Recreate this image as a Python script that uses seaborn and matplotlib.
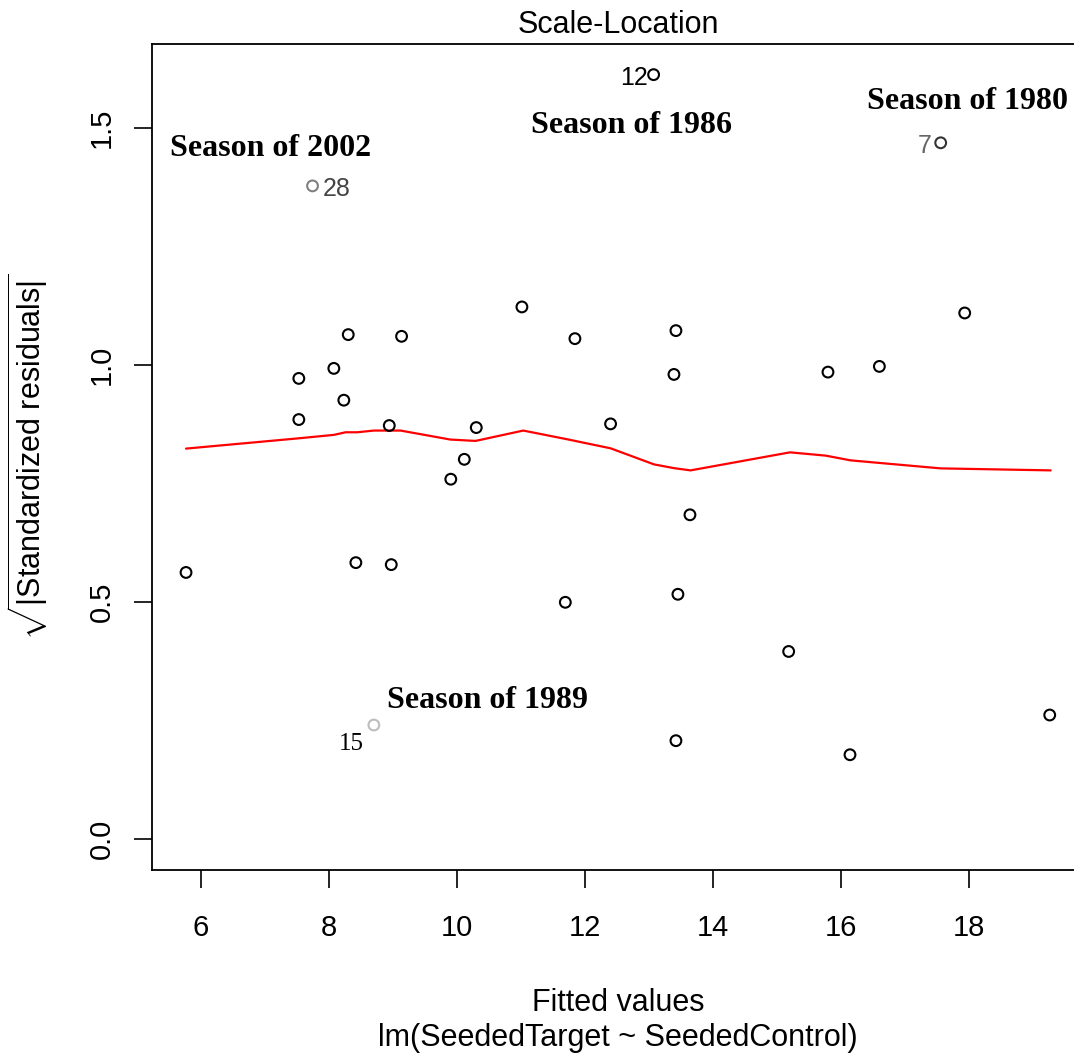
import matplotlib
matplotlib.use("Agg")
import matplotlib.pyplot as plt
import seaborn as sns
import pandas as pd

# ---- data ----
fitted = [5.766, 7.528, 7.528, 7.742, 8.075, 8.231, 8.300, 8.419, 8.700, 8.941,
          8.972, 9.133, 9.902, 10.113, 10.300, 11.013, 11.691, 11.841, 12.398, 13.070,
          13.388, 13.419, 13.419, 13.450, 13.638, 15.180, 15.794, 16.138, 16.597, 17.555,
          17.930, 19.258]
sqrt_std_resid = [0.5624, 0.9713, 0.8846, 1.377, 0.9924, 0.9254, 1.0636, 0.5831, 0.2409, 0.8720,
                  0.5789, 1.0600, 0.7589, 0.8008, 0.8677, 1.1219, 0.4995, 1.0551, 0.8755, 1.6114,
                  0.9797, 1.0720, 0.2079, 0.5164, 0.6839, 0.3959, 0.9846, 0.1783, 0.9966, 1.4678,
                  1.1092, 0.2620]
point_edge = ["black", "black", "black", "#808080", "black", "black", "black", "black", "#bdbdbd", "black",
              "black", "black", "black", "black", "black", "black", "black", "black", "black", "black",
              "black", "black", "black", "black", "black", "black", "black", "black", "black", "#333333",
              "black", "black"]

smooth_x = [5.766, 7.528, 8.075, 8.258, 8.441, 8.700, 9.117, 9.898, 10.289, 11.034,
            11.722, 12.398, 13.075, 13.388, 13.648, 15.200, 15.758, 16.148, 17.555, 19.273]
smooth_y = [0.8234, 0.8451, 0.8523, 0.8578, 0.8578, 0.8614, 0.8614, 0.8424, 0.8396, 0.8614,
            0.8430, 0.8240, 0.7902, 0.7822, 0.7775, 0.8155, 0.8086, 0.7986, 0.7817, 0.7775]

# id labels: text, x, y, colour, font family, alignment
id_labels = [("28", 7.898, 1.370, "#444444", "sans", "left"),
             ("12", 12.977, 1.605, "black", "sans", "right"),
             ("7", 17.414, 1.461, "#666666", "sans", "right"),
             ("15", 8.539, 0.200, "black", "serif", "right")]

season_labels = [("Season of 2002", 5.523, 1.4550),
                 ("Season of 1986", 11.148, 1.504),
                 ("Season of 1980", 16.398, 1.5545),
                 ("Season of 1989", 8.898, 0.2930)]

x_ticks = [6, 8, 10, 12, 14, 16, 18]
y_ticks = [0.0, 0.5, 1.0, 1.5]
title = "Scale-Location"
x_label = "Fitted values\nlm(SeededTarget ~ SeededControl)"
y_label = r"$\sqrt{|\mathrm{Standardized\ residuals}|}$"

# ---- styling ----
sns.set_theme(style="white")
plt.rcParams["font.family"] = ["Liberation Sans", "DejaVu Sans"]
plt.rcParams["mathtext.fontset"] = "custom"
plt.rcParams["mathtext.rm"] = "Liberation Sans"
plt.rcParams["mathtext.it"] = "Liberation Sans:italic"
plt.rcParams["mathtext.bf"] = "Liberation Sans:bold"

fig = plt.figure(figsize=(10.74, 10.55), dpi=100)
fig.patch.set_facecolor("white")
ax = fig.add_axes([0.1415, 0.1754, 0.8676, 0.7829])
ax.set_facecolor("white")

df = pd.DataFrame({"fitted": fitted, "resid": sqrt_std_resid})
sns.scatterplot(data=df, x="fitted", y="resid", ax=ax, marker="o", s=60,
                color="black", legend=False, zorder=3)
pts = ax.collections[-1]
pts.set_facecolor("none")
pts.set_edgecolor(point_edge)
pts.set_linewidth(1.5)

sm = pd.DataFrame({"x": smooth_x, "y": smooth_y})
sns.lineplot(data=sm, x="x", y="y", ax=ax, color="red", linewidth=1.6,
             sort=False, estimator=None, zorder=2)

for txt, x, y, col, fam, ha in id_labels:
    family = ["Liberation Serif"] if fam == "serif" else ["Liberation Sans"]
    ax.text(x, y, txt, color=col, fontsize=18,
            family=family, ha=ha, va="center")

for txt, x, y in season_labels:
    ax.text(x, y, txt, fontsize=23, fontweight="bold",
            family=["Liberation Serif"], ha="left", va="center", color="black")

ax.set_xlim(5.234, 19.79)
ax.set_ylim(-0.0645, 1.676)
ax.set_xticks(x_ticks)
ax.set_xticklabels([str(t) for t in x_ticks])
ax.set_yticks(y_ticks)
ax.set_yticklabels([f"{t:.1f}" for t in y_ticks])
for lab in ax.get_yticklabels():
    lab.set_rotation(90)
    lab.set_va("center")
    lab.set_ha("right")

ax.tick_params(axis="both", which="major", direction="out", length=13, width=1.2,
               color="black", labelsize=21, labelcolor="black", left=True, bottom=True)
ax.tick_params(axis="x", pad=19)
ax.tick_params(axis="y", pad=13)

for side in ["left", "bottom", "top", "right"]:
    ax.spines[side].set_visible(True)
    ax.spines[side].set_color("black")
    ax.spines[side].set_linewidth(1.3)

ax.set_title(title, fontsize=22, pad=8, color="black")
ax.set_xlabel(x_label, fontsize=22, labelpad=33, color="black", linespacing=1.2)
ax.set_ylabel(y_label, fontsize=22, labelpad=27, color="black")

fig.savefig("out.png", dpi=100, facecolor="white")
